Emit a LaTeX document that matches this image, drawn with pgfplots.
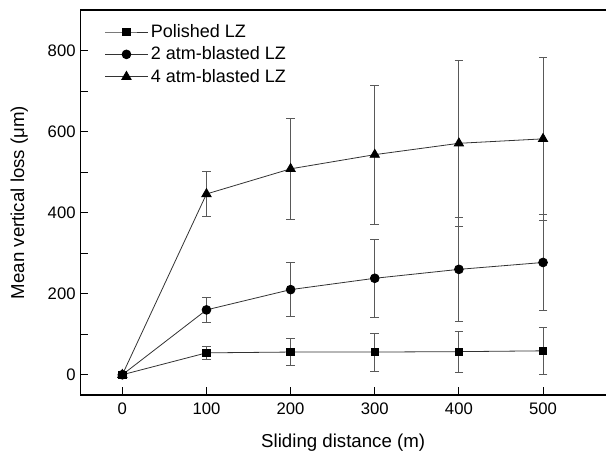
\documentclass[border=0pt]{standalone}
\usepackage{pgfplots}
\pgfplotsset{compat=1.18}
\usepackage{fontspec}
\setmainfont{Liberation Sans}

\pgfplotstableread{
x   y    e
0   0    0
100 54   16
200 56   33
300 56   47
400 57   51
500 59   58
}\polished

\pgfplotstableread{
x   y    e
0   0    0
100 160  30
200 210  66
300 238  96
400 260  128
500 277  118
}\twoatm

\pgfplotstableread{
x   y    e
0   0    0
100 446  55
200 508  124
300 543  171
400 571  205
500 582  200
}\fouratm

\begin{document}
\begin{tikzpicture}
\path[use as bounding box] (0,0) rectangle (454.5pt,341.25pt);
\begin{axis}[
	at={(60.2pt,45pt)}, anchor=south west,
	scale only axis,
	width=394.4pt, height=288.8pt,
	xmin=-50, xmax=575,
	ymin=-50, ymax=900,
	axis x line*=box, axis y line*=left,
	axis line style={-, line width=0.9pt},
	xtick={0,100,...,500},
	ytick={0,200,...,800},
	minor y tick num=1,
	xtick pos=bottom, ytick pos=left,
	tick align=inside,
	major tick length=6pt, minor tick length=6pt,
	every tick/.style={black, line width=0.7pt},
	/pgf/number format/assume math mode=true,
	tick label style={font=\fontsize{12.5}{14}\selectfont},
	xticklabel style={yshift=-2pt},
	label style={font=\fontsize{14}{16}\selectfont},
	xlabel={Sliding distance (m)},
	ylabel={Mean vertical loss (μm)},
	xlabel style={yshift=-8pt},
	ylabel style={yshift=8pt},
	legend style={at={(axis cs:-26,878)}, anchor=north west, draw=none, fill=none,
		font=\fontsize{13.5}{15}\selectfont, row sep=1.5pt,
		legend cell align=left},
	legend image code/.code={\draw[mark repeat=2, mark phase=2]
		plot coordinates {(0pt,0pt) (16pt,0pt) (32pt,0pt)};},
	error bars/error bar style={line width=0.6pt, color=black!65},
	error bars/error mark options={rotate=90, mark size=3.2pt, line width=0.6pt, color=black!65},
	clip=false,
]
\addplot[color=black!80, line width=0.6pt, mark=square*, mark size=2.8pt,
	mark options={black, fill=black},
	error bars/.cd, y dir=both, y explicit]
	table[x=x, y=y, y error=e] {\polished};
\addlegendentry{Polished LZ}
\addplot[color=black!80, line width=0.6pt, mark=*, mark size=3.3pt,
	mark options={black, fill=black},
	error bars/.cd, y dir=both, y explicit]
	table[x=x, y=y, y error=e] {\twoatm};
\addlegendentry{2 atm-blasted LZ}
\addplot[color=black!80, line width=0.6pt, mark=triangle*, mark size=4pt,
	mark options={black, fill=black},
	error bars/.cd, y dir=both, y explicit]
	table[x=x, y=y, y error=e] {\fouratm};
\addlegendentry{4 atm-blasted LZ}
\end{axis}
\end{tikzpicture}
\end{document}
